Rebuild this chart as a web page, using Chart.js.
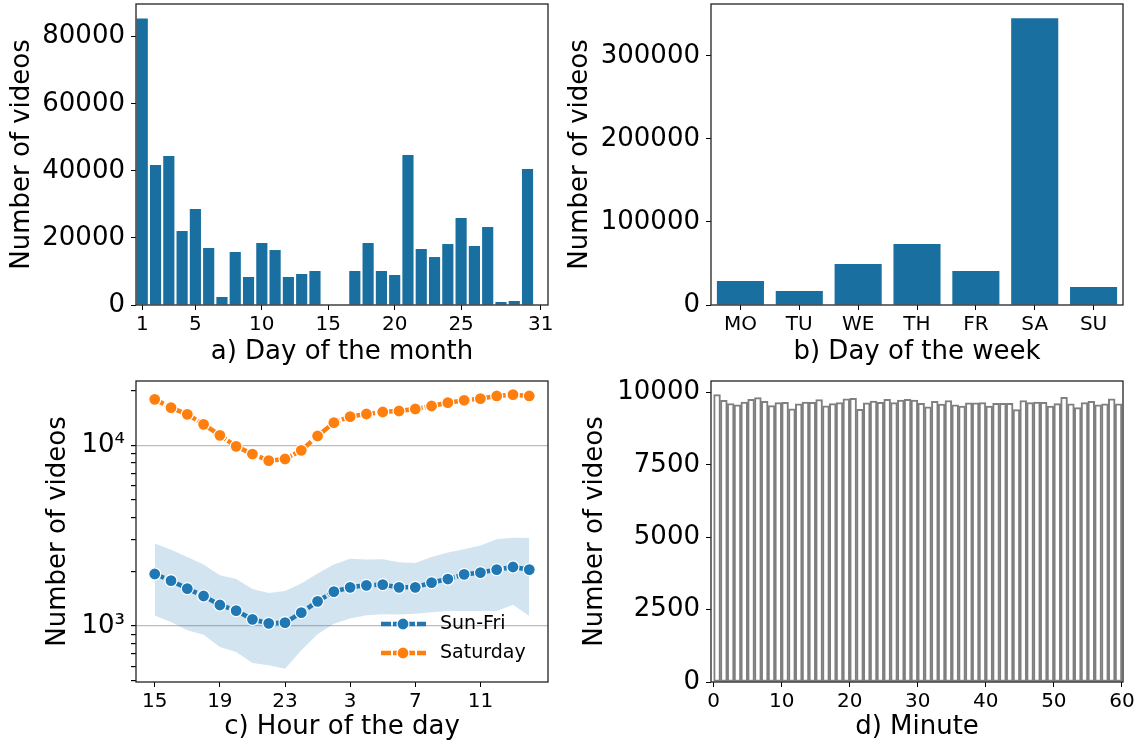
<!DOCTYPE html>
<html>
<head>
<meta charset="utf-8">
<script src="https://cdn.jsdelivr.net/npm/chart.js@4.4.1/dist/chart.umd.min.js"></script>
<style>
  body { margin: 0; background: #fff; width: 1142px; height: 746px; position: relative; overflow: hidden; }
  canvas { position: absolute; }
</style>
</head>
<body>
<canvas id="chartDay" width="560" height="373" style="left:0;top:0"></canvas>
<canvas id="chartWeek" width="582" height="373" style="left:560px;top:0"></canvas>
<canvas id="chartHour" width="560" height="373" style="left:0;top:373px"></canvas>
<canvas id="chartMinute" width="582" height="373" style="left:560px;top:373px"></canvas>
<script>
// a) day of the month
const days = [1,2,3,4,5,6,7,8,9,10,11,12,13,14,15,16,17,18,19,20,21,22,23,24,25,26,27,28,29,30];
const dayCounts = [85450,41730,44410,22060,28610,16990,2380,15800,8350,18480,16390,8350,9240,10130,0,0,
                   10130,18480,10130,8940,44710,16690,14300,18180,25930,17590,23250,890,1190,40540];
const dayTicks = [1,5,10,15,20,25,31];
const dayYTicks = [0,20000,40000,60000,80000];

// b) day of the week
const weekdays = ['MO','TU','WE','TH','FR','SA','SU'];
const weekdayCounts = [28900,16870,49400,73500,40960,345400,21690];
const weekYTicks = [0,100000,200000,300000];

// c) hour of the day
const hours = [15,16,17,18,19,20,21,22,23,0,1,2,3,4,5,6,7,8,9,10,11,12,13,14];
const sunFri = [1940,1783,1611,1466,1307,1217,1089,1035,1044,1186,1370,1550,1637,1680,1695,1637,1637,1739,1820,1932,1975,2052,2121,2052];
const sunFriHigh = [2858,2647,2409,2187,1908,1820,1602,1522,1562,1717,1950,2187,2360,2331,2339,2252,2232,2409,2548,2658,2786,3018,3084,3069];
const sunFriLow = [1142,1052,947,896,765,718,624,606,581,734,900,1031,1099,1146,1161,1157,1171,1191,1211,1211,1211,1211,1313,1136];
const saturday = [17970,16170,14840,13070,11360,9870,8950,8225,8400,9380,11260,13350,14410,14910,15290,15490,15890,16510,17220,17750,18130,18760,19070,18760];
const hourTicks = [0,4,8,12,16,20];
const logTicks = [500,600,700,800,900,1000,2000,3000,4000,5000,6000,7000,8000,9000,10000,20000];

// d) minute
const minuteCounts = [9930,9735,9620,9575,9675,9770,9825,9700,9550,9655,9665,9435,9610,9675,9665,9760,9540,9620,9655,9780,
                      9805,9425,9645,9710,9665,9770,9655,9745,9770,9745,9630,9505,9700,9600,9725,9575,9530,9645,9645,9655,
                      9530,9630,9630,9630,9410,9725,9655,9675,9665,9530,9620,9840,9610,9480,9655,9700,9575,9610,9780,9610];
const minuteTicks = [0,10,20,30,40,50,60];
const minuteYTicks = [0,2500,5000,7500,10000];

const FONT = 'DejaVu Sans';
const BAR_BLUE = '#196f9f';
const BLUE = '#1f77b4';
const ORANGE = '#ff7f0e';

// draw the box around the plot area like matplotlib spines
const framePlugin = {
  id: 'frame',
  afterDatasetsDraw(chart) {
    const a = chart.chartArea;
    const ctx = chart.ctx;
    ctx.save();
    ctx.strokeStyle = '#222';
    ctx.lineWidth = 1.3;
    ctx.strokeRect(a.left, a.top, a.right - a.left, a.bottom - a.top);
    ctx.restore();
  }
};

function yAxis(width, titlePad, tickList, extra) {
  return Object.assign({
    // fixed width, and no extra room for half tick labels
    afterFit: s => { s.width = width; s.paddingTop = 0; s.paddingBottom = 0; },
    afterBuildTicks: s => { s.ticks = tickList.map(v => ({ value: v })); },
    border: { display: false },
    grid: { drawOnChartArea: false, color: '#000', tickLength: 5 },
    ticks: { color: '#000', padding: 6, font: { family: FONT, size: 26 }, callback: v => String(v) },
    title: { display: true, text: 'Number of videos', color: '#000',
             font: { family: FONT, size: 26, lineHeight: 1.2 }, padding: { top: titlePad, bottom: 0 } }
  }, extra);
}

function xAxis(height, titleText, titlePad, extra) {
  return Object.assign({
    afterFit: s => { s.height = height; s.paddingLeft = 0; s.paddingRight = 0; },
    border: { display: false },
    grid: { drawOnChartArea: false, color: '#000', tickLength: 5, offset: false },
    ticks: { color: '#000', padding: 3, maxRotation: 0, autoSkip: false, font: { family: FONT, size: 20 } },
    title: { display: true, text: titleText, color: '#000',
             font: { family: FONT, size: 26, lineHeight: 1.2 }, padding: { top: 0, bottom: titlePad } }
  }, extra);
}

const baseOptions = (pad) => ({
  responsive: false,
  animation: false,
  layout: { padding: pad },
  plugins: { legend: { display: false }, tooltip: { enabled: false } }
});

// Gráfico a: dia do mês
new Chart(document.getElementById('chartDay'), {
  type: 'bar',
  data: {
    datasets: [{
      data: days.map((d, i) => ({ x: d, y: dayCounts[i] })),
      backgroundColor: BAR_BLUE,
      barPercentage: 0.84,
      categoryPercentage: 1
    }]
  },
  options: Object.assign(baseOptions({ left: 0, top: 4, right: 12, bottom: 0 }), {
    scales: {
      x: xAxis(68, 'a) Day of the month', 5, {
        type: 'linear', min: 0.53, max: 31.54, offset: false,
        afterBuildTicks: s => { s.ticks = dayTicks.map(v => ({ value: v })); },
        ticks: { color: '#000', padding: 3, maxRotation: 0, autoSkip: false,
                 font: { family: FONT, size: 20 }, callback: v => String(v) }
      }),
      y: yAxis(136, 7, dayYTicks, { min: 0, max: 89750 })
    }
  }),
  plugins: [framePlugin]
});

// Gráfico b: dia da semana
new Chart(document.getElementById('chartWeek'), {
  type: 'bar',
  data: {
    labels: weekdays,
    datasets: [{
      data: weekdayCounts,
      backgroundColor: BAR_BLUE,
      barPercentage: 0.8,
      categoryPercentage: 1
    }]
  },
  options: Object.assign(baseOptions({ left: 0, top: 4, right: 19, bottom: 0 }), {
    scales: {
      x: xAxis(68, 'b) Day of the week', 5, {}),
      y: yAxis(151, 5, weekYTicks, { min: 0, max: 362650 })
    }
  }),
  plugins: [framePlugin]
});

// legend inside the plot, lower right
const hourLegend = {
  id: 'hourLegend',
  afterDraw(chart) {
    const ctx = chart.ctx;
    const items = [[chart.data.datasets[0].label, BLUE, 251], [chart.data.datasets[1].label, ORANGE, 280]];
    ctx.save();
    items.forEach(([label, color, y]) => {
      ctx.strokeStyle = color;
      ctx.lineWidth = 4.5;
      ctx.setLineDash([10, 2]);
      ctx.beginPath(); ctx.moveTo(381, y); ctx.lineTo(426, y); ctx.stroke();
      ctx.setLineDash([]);
      ctx.beginPath(); ctx.arc(403, y, 6, 0, Math.PI * 2);
      ctx.fillStyle = color; ctx.fill();
      ctx.strokeStyle = '#fff'; ctx.lineWidth = 1.2; ctx.stroke();
      ctx.fillStyle = '#000';
      ctx.font = '19px "DejaVu Sans"';
      ctx.textBaseline = 'middle';
      ctx.fillText(label, 440, y);
    });
    ctx.restore();
  }
};

const lineStyle = color => ({
  borderColor: color,
  backgroundColor: color,
  borderWidth: 4.5,
  borderDash: [10, 2],
  pointRadius: 6,
  pointBackgroundColor: color,
  pointBorderColor: '#fff',
  pointBorderWidth: 1.2,
  tension: 0,
  fill: false
});

// Gráfico c: hora do dia (escala log)
new Chart(document.getElementById('chartHour'), {
  type: 'line',
  data: {
    datasets: [
      Object.assign({ label: 'Sun-Fri', data: sunFri.map((v, i) => ({ x: i, y: v })) }, lineStyle(BLUE)),
      Object.assign({ label: 'Saturday', data: saturday.map((v, i) => ({ x: i, y: v })) }, lineStyle(ORANGE)),
      { label: 'high', data: sunFriHigh.map((v, i) => ({ x: i, y: v })), borderWidth: 0, pointRadius: 0,
        fill: '+1', backgroundColor: 'rgba(31,119,180,0.2)' },
      { label: 'low', data: sunFriLow.map((v, i) => ({ x: i, y: v })), borderWidth: 0, pointRadius: 0, fill: false }
    ]
  },
  options: Object.assign(baseOptions({ left: 0, top: 8, right: 12, bottom: 0 }), {
    scales: {
      x: xAxis(64, 'c) Hour of the day', 3, {
        type: 'linear', min: -1.15, max: 24.15, offset: false,
        afterBuildTicks: s => { s.ticks = hourTicks.map(v => ({ value: v })); },
        ticks: { color: '#000', padding: 3, maxRotation: 0, autoSkip: false,
                 font: { family: FONT, size: 20 }, callback: v => String(hours[v]) }
      }),
      y: yAxis(136, 43, logTicks, {
        type: 'logarithmic', min: 490, max: 22700,
        grid: {
          drawOnChartArea: true, tickLength: 5, tickColor: '#000', lineWidth: 1.2,
          color: c => (c.tick && (c.tick.value === 1000 || c.tick.value === 10000)) ? '#bdbdbd' : 'rgba(0,0,0,0)'
        },
        ticks: { color: '#000', padding: 6, autoSkip: false, font: { family: FONT, size: 26 },
                 callback: v => v === 1000 ? '10³' : (v === 10000 ? '10⁴' : '') }
      })
    }
  }),
  plugins: [framePlugin, hourLegend]
});

// Gráfico d: minuto
new Chart(document.getElementById('chartMinute'), {
  type: 'bar',
  data: {
    datasets: [{
      data: minuteCounts.map((v, i) => ({ x: i + 0.5, y: v })),
      backgroundColor: '#fff',
      borderColor: '#7f7f7f',
      borderWidth: 2,
      borderSkipped: false,
      barPercentage: 1,
      categoryPercentage: 1
    }]
  },
  options: Object.assign(baseOptions({ left: 0, top: 8, right: 19, bottom: 0 }), {
    scales: {
      x: xAxis(64, 'd) Minute', 3, {
        type: 'linear', min: -0.39, max: 60.16, offset: false,
        afterBuildTicks: s => { s.ticks = minuteTicks.map(v => ({ value: v })); },
        ticks: { color: '#000', padding: 3, maxRotation: 0, autoSkip: false,
                 font: { family: FONT, size: 20 }, callback: v => String(v) }
      }),
      y: yAxis(151, 20, minuteYTicks, { min: 0, max: 10400 })
    }
  }),
  plugins: [framePlugin]
});
</script>
</body>
</html>
